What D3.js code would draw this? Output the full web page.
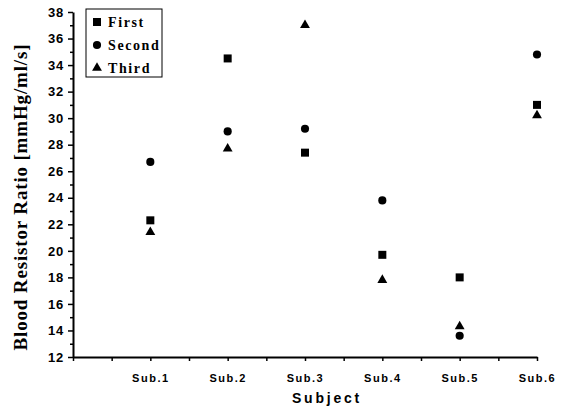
<!DOCTYPE html>
<html>
<head>
<meta charset="utf-8">
<script src="https://cdn.jsdelivr.net/npm/d3@7"></script>
<style>
    body { margin: 0; background: #fff; }
    .tick text { fill: #000; }
</style>
</head>
<body>
<div id="chart"></div>
<script>
// Blood resistor ratio per subject, three measurements

const subjects = ['Sub.1', 'Sub.2', 'Sub.3', 'Sub.4', 'Sub.5', 'Sub.6'];
const firstValues = [22.3, 34.5, 27.4, 19.7, 18.0, 31.0];
const secondValues = [26.7, 29.0, 29.2, 23.8, 13.6, 34.8];
const thirdValues = [21.4, 27.7, 37.0, 17.8, 14.3, 30.2];
const seriesNames = ['First', 'Second', 'Third'];
const yMajorTicks = d3.range(12, 39, 2);

const width = 565;
const height = 411;
const margin = { top: 12, right: 28, bottom: 54, left: 73 };

const svg = d3.select('#chart')
    .append('svg')
    .attr('width', width)
    .attr('height', height);

// Scales: subjects sit on integer positions of a 0..6 axis
const x = d3.scaleLinear()
    .domain([0, subjects.length])
    .range([margin.left, width - margin.right]);

const y = d3.scaleLinear()
    .domain([12, 38])
    .range([height - margin.bottom, margin.top]);

const symbols = [d3.symbolSquare, d3.symbolCircle, d3.symbolTriangle];
const symbolSizes = [64, 52, 42];

// Y axis, major and minor ticks
const yAxis = svg.append('g')
    .attr('transform', `translate(${margin.left},0)`)
    .call(d3.axisLeft(y).tickValues(yMajorTicks).tickSize(5).tickSizeOuter(0).tickPadding(4));

svg.append('g')
    .attr('transform', `translate(${margin.left},0)`)
    .call(d3.axisLeft(y).tickValues(d3.range(13, 38, 2)).tickSize(3).tickSizeOuter(0).tickFormat(''))
    .select('.domain').remove();

yAxis.selectAll('text')
    .style('font-family', '"Liberation Sans", Arial, sans-serif')
    .style('font-weight', 'bold')
    .style('font-size', '13px')
    .style('letter-spacing', '0.8px');

// X axis: tick marks every half step, labels at subjects
const xAxis = svg.append('g')
    .attr('transform', `translate(0,${y(12)})`)
    .call(d3.axisBottom(x).tickValues(d3.range(0, 6.01, 0.5)).tickSize(4).tickSizeOuter(0).tickFormat(''));

svg.append('g')
    .attr('transform', `translate(0,${y(12)})`)
    .call(d3.axisBottom(x)
        .tickValues(d3.range(1, subjects.length + 1))
        .tickSize(0)
        .tickPadding(17)
        .tickFormat(d => subjects[d - 1]))
    .call(g => g.select('.domain').remove())
    .selectAll('text')
    .style('font-family', '"Liberation Sans", Arial, sans-serif')
    .style('font-weight', 'bold')
    .style('font-size', '11px')
    .style('letter-spacing', '1.5px');

svg.selectAll('.domain')
    .attr('stroke', '#000')
    .attr('stroke-width', 2);

svg.selectAll('.tick line')
    .attr('stroke', '#000')
    .attr('stroke-width', 1.5);

// Axis titles
svg.append('text')
    .attr('transform', `translate(27,${(y(12) + y(38)) / 2 + 13}) rotate(-90)`)
    .attr('text-anchor', 'middle')
    .attr('textLength', 306)
    .attr('lengthAdjust', 'spacing')
    .style('font-family', '"Liberation Serif", "Times New Roman", serif')
    .style('font-weight', 'bold')
    .style('font-size', '19px')
    .text('Blood Resistor Ratio [mmHg/ml/s]');

svg.append('text')
    .attr('x', 327)
    .attr('y', 403)
    .attr('text-anchor', 'middle')
    .style('font-family', '"Liberation Sans", Arial, sans-serif')
    .style('font-weight', 'bold')
    .style('font-size', '14px')
    .style('letter-spacing', '2.8px')
    .text('Subject');

// Data points
const series = [firstValues, secondValues, thirdValues];

series.forEach((values, s) => {
    svg.append('g')
        .selectAll('path')
        .data(values)
        .enter()
        .append('path')
        .attr('transform', (d, i) => `translate(${x(i + 1)},${y(d)})`)
        .attr('d', d3.symbol().type(symbols[s]).size(symbolSizes[s]))
        .attr('fill', '#000');
});

// Legend
const legend = svg.append('g')
    .attr('transform', 'translate(86,9)');

legend.append('rect')
    .attr('width', 76)
    .attr('height', 68)
    .attr('fill', '#fff')
    .attr('stroke', '#000')
    .attr('stroke-width', 1);

const legendItems = legend.selectAll('.legend-item')
    .data(seriesNames)
    .enter()
    .append('g')
    .attr('class', 'legend-item')
    .attr('transform', (d, i) => `translate(11, ${13 + i * 23})`);

legendItems.append('path')
    .attr('d', (d, i) => d3.symbol().type(symbols[i]).size(symbolSizes[i])())
    .attr('fill', '#000');

legendItems.append('text')
    .attr('x', 11)
    .attr('y', 5)
    .style('font-family', '"Liberation Serif", "Times New Roman", serif')
    .style('font-weight', 'bold')
    .style('font-size', '14px')
    .style('letter-spacing', '1.6px')
    .text(d => d);
</script>
</body>
</html>
